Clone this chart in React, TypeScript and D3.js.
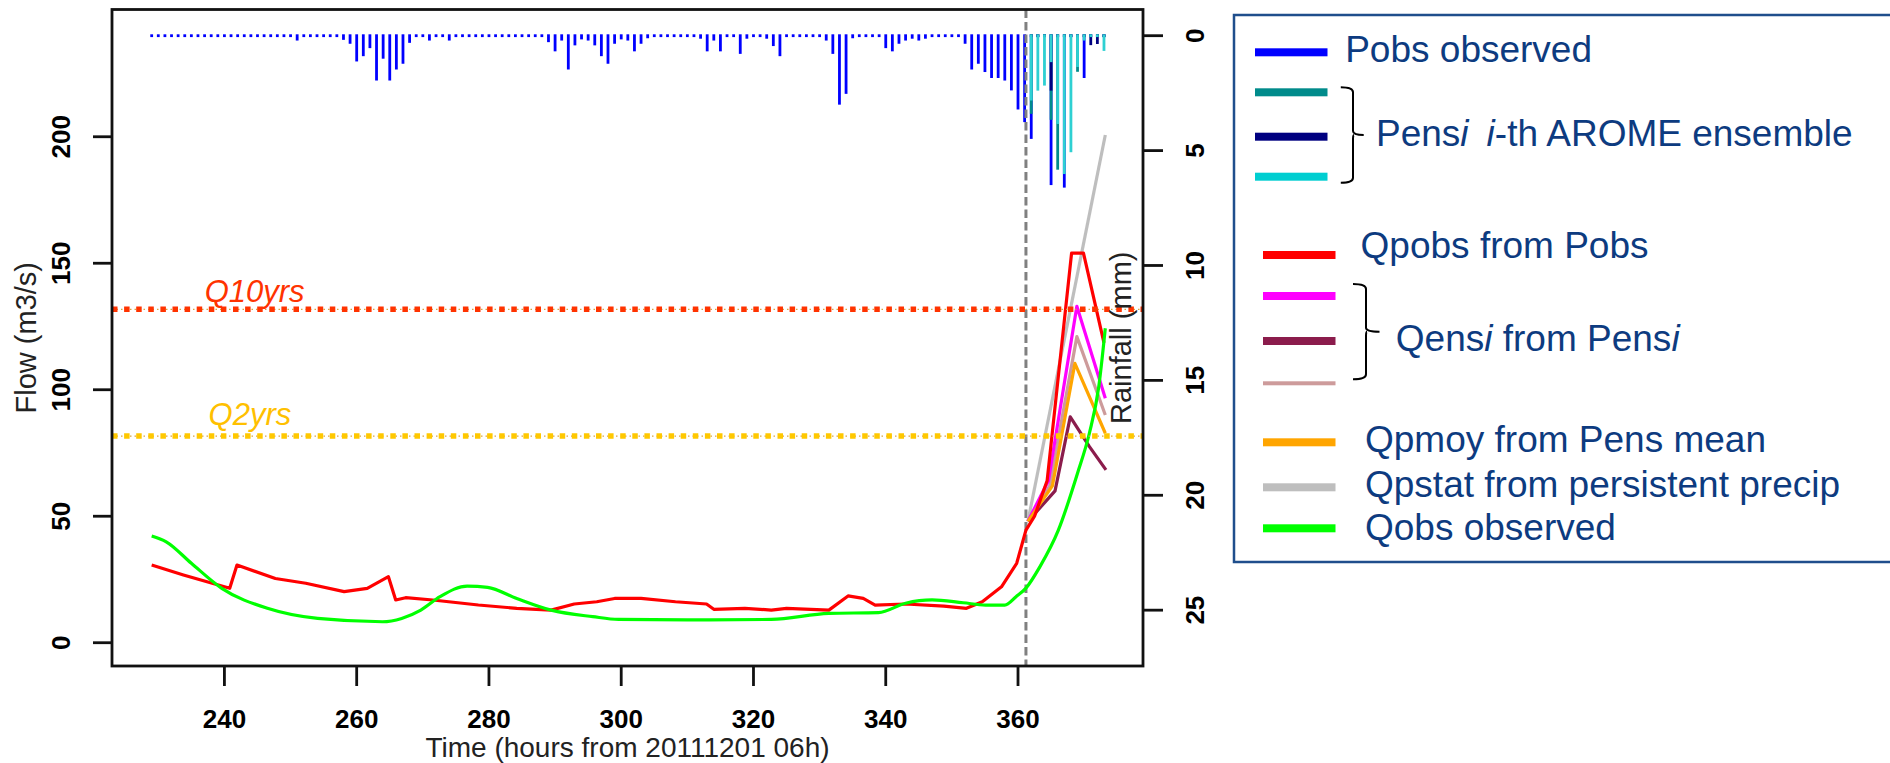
import React from 'react';
import * as d3 from 'd3';

// hourly rainfall (mm), first value is hour 229
const RAIN_START = 229;
const POBS = [
  0, 0, 0, 0, 0, 0, 0, 0, 0, 0, 0, 0, 0, 0, 0, 0, 0, 0, 0, 0, 0, 0, // 229-250
  0.15, 0, 0, 0, 0, 0, 0, 0.12, 0.29, 1.06, 0.83, 0.48, 1.89, 0.94, 1.89, 1.41, 1.16, 0.25, // 251-268
  0, 0, 0.15, 0, 0, 0.15, // 269-274
  0, 0, 0, 0, 0, 0, 0, 0, 0, 0, 0, 0, 0, 0, // 275-288
  0.22, 0.62, 0.15, 1.41, 0.36, 0.1, 0.15, 0.36, 0.83, 1.16, 0.29, 0.1, 0.15, 0.62, 0.29, 0.05, // 289-304
  0, 0, 0, 0, 0, 0, 0, // 305-311
  0.07, 0.62, 0.15, 0.62, 0, 0, 0.73, 0.07, 0, 0, 0.07, 0.39, 0.83, // 312-324
  0, 0, 0, 0, 0, 0, // 325-330
  0.15, 0.73, 2.94, 2.47, 0.05, 0, 0, 0, 0, // 331-339
  0.48, 0.62, 0.29, 0.15, 0.07, 0.15, 0.07, 0, 0, 0, 0, 0, // 340-351
  0.29, 1.41, 1.16, 1.52, 1.78, 1.78, 1.89, 2.32, 3.15, 3.7, // 352-361
  4.43, 0, 0, 6.44, 0, 6.55, 0, 0, 1.78, 0, 0, 0, // 362-373
];

// AROME ensemble rainfall (mm), first value is hour 362
const ENS_START = 362;
const PENS_TEAL = [3.34, 0, 0, 3.6, 5.77, 0, 0, 1.51, 0, 0, 0, 0];
const PENS_NAVY = [0, 0, 0, 2.33, 0, 0, 0, 0, 0, 0.35, 0.3, 0];
const PENS_CYAN = [2.76, 2.33, 2.11, 1.09, 3.78, 5.96, 5.01, 1.3, 0.15, 0, 0, 0.6];

// flows (m3/s)
const QOBS_T = [229, 231.2, 235, 239.6, 246.5, 254.1, 263.9, 266.8, 269.7, 272.6, 276.7, 279.8, 284.2, 289.4, 295.7, 299.6, 310, 322.7, 331.4, 338.9, 343, 347, 351.7, 355.1, 358, 359.7, 361.2, 363.3, 366.1, 369, 370.8, 372.2, 373.2];
const QOBS = [42.2, 39.9, 31.4, 21.5, 13.6, 9.6, 8.3, 9.6, 12.9, 18.2, 22.4, 21.9, 17.5, 12.9, 10.3, 9.2, 9.0, 9.2, 11.6, 11.9, 15.6, 16.9, 15.8, 14.9, 14.9, 18.2, 21.6, 30, 44.5, 67, 82.9, 101, 124.3];

const QPOBS_T = [229, 233.8, 240.8, 241.9, 247.7, 252.3, 258.1, 261.6, 264.8, 265.9, 267.4, 271.5, 278.4, 284.2, 289.4, 292.9, 296.3, 299, 303, 308.2, 312.9, 314, 318.7, 322.7, 325, 331.4, 334.3, 336.6, 338.4, 343, 348.8, 352.2, 354.6, 357.5, 359.8, 361.2, 362.5, 364.4, 368.1, 369.9, 373];
const QPOBS = [30.7, 26.8, 21.5, 30.7, 25.4, 23.5, 20.2, 21.5, 26.1, 16.9, 17.8, 16.9, 14.9, 13.6, 12.9, 15.3, 16.2, 17.5, 17.5, 16.2, 15.3, 13.2, 13.6, 12.9, 13.6, 12.9, 18.5, 17.5, 14.9, 15.3, 14.5, 13.6, 16.2, 22.1, 31.4, 44.5, 50, 64, 154, 154, 118.5];

const QENS_MAGENTA_T = [361.5, 364.6, 368.9, 373.2];
const QENS_MAGENTA = [48, 64, 133, 96.6];
const QENS_MAROON_T = [361.5, 365.6, 367.9, 370.8, 373.3];
const QENS_MAROON = [48, 60, 89.3, 77.5, 68.3];
const QENS_ROSY_T = [361.5, 364.8, 368.9, 373.2];
const QENS_ROSY = [48, 62, 121, 90];
const QPMOY_T = [361.5, 365.2, 368.6, 373.2];
const QPMOY = [48, 62, 110.4, 82.8];
const QPSTAT_T = [361.5, 373.2];
const QPSTAT = [48, 200.7];

const Q10YRS = 131.8;
const Q2YRS = 81.7;
const T_FORECAST = 361.2;

const X_TICKS = [240, 260, 280, 300, 320, 340, 360];
const FLOW_TICKS = [0, 50, 100, 150, 200];
const RAIN_TICKS = [0, 5, 10, 15, 20, 25];

const FONT = '"Liberation Sans", Arial, Helvetica, sans-serif';
const LEGEND_TEXT = '#0D3B80';

export default function App() {
  const L = 112, R = 1143, T = 9.5, B = 666;
  const x = d3.scaleLinear().domain([223.0, 378.9]).range([L, R]);
  const yQ = d3.scaleLinear().domain([-9.2, 250.3]).range([B, T]);
  const yP = d3.scaleLinear().domain([-1.14, 27.43]).range([T, B]);

  const line = d3.line<[number, number]>().x(d => x(d[0])).y(d => yQ(d[1]));
  const smooth = d3.line<[number, number]>().x(d => x(d[0])).y(d => yQ(d[1])).curve(d3.curveMonotoneX);
  const pts = (t: number[], v: number[]) => d3.zip(t, v) as [number, number][];

  const bw = 2.8, cap = 1.4;
  const bars = (vals: number[], start: number, color: string, id: string) =>
    vals.map((v, i) => (
      <rect key={id + i} x={x(start + i) - bw / 2} y={yP(0) - cap}
        width={bw} height={yP(v) - yP(0) + 2 * cap} fill={color} />
    ));

  const flows: [string, string, number[], number[], boolean][] = [
    ['qstat', '#BEBEBE', QPSTAT_T, QPSTAT, false],
    ['qrosy', '#CD9B9B', QENS_ROSY_T, QENS_ROSY, false],
    ['qmaroon', '#8B1C4C', QENS_MAROON_T, QENS_MAROON, false],
    ['qmag', '#FF00FF', QENS_MAGENTA_T, QENS_MAGENTA, false],
    ['qmoy', '#FFA500', QPMOY_T, QPMOY, false],
    ['qpobs', '#FF0000', QPOBS_T, QPOBS, false],
    ['qobs', '#00FF00', QOBS_T, QOBS, true],
  ];

  const brace = (x0: number, x1: number, xt: number, y0: number, y1: number) => {
    const ym = (y0 + y1) / 2;
    return `M${x0},${y0} Q${x1},${y0} ${x1},${y0 + 5} L${x1},${ym - 4} Q${x1},${ym} ${xt},${ym}` +
      ` M${x1 + 1},${ym} Q${x1},${ym} ${x1},${ym + 4} L${x1},${y1 - 5} Q${x1},${y1} ${x0},${y1}`;
  };

  // legend rows: [colour, line x0, line y, thickness]
  const legLines: [string, number, number, number][] = [
    ['#0000FF', 1255, 52.3, 8],
    ['#008B8B', 1255, 92.3, 8],
    ['#000080', 1255, 136.7, 8],
    ['#00CED1', 1255, 176.7, 8],
    ['#FF0000', 1263, 255, 8],
    ['#FF00FF', 1263, 296, 8],
    ['#8B1C4C', 1263, 341, 8],
    ['#CD9B9B', 1263, 383.3, 4],
    ['#FFA500', 1263, 442.3, 8],
    ['#BEBEBE', 1263, 487.3, 8],
    ['#00FF00', 1263, 528.3, 8],
  ];

  return (
    <svg width={1890} height={763} style={{ position: 'absolute', left: 0, top: 0, background: '#fff' }}
      fontFamily={FONT}>
      {/* rainfall bars hanging from the top */}
      {bars(POBS, RAIN_START, '#0000FF', 'p')}
      {bars(PENS_TEAL, ENS_START, '#008B8B', 't')}
      {bars(PENS_NAVY, ENS_START, '#000080', 'n')}
      {bars(PENS_CYAN, ENS_START, '#2ED0D2', 'c')}

      <line x1={x(T_FORECAST)} x2={x(T_FORECAST)} y1={T} y2={B} stroke="#808080" strokeWidth={3} strokeDasharray="8.5 4" />

      {flows.map(([k, c, t, v, s]) => (
        <path key={k} d={(s ? smooth : line)(pts(t, v)) || ''} fill="none" stroke={c} strokeWidth={3.2} strokeLinejoin="round" />
      ))}

      {/* return-period thresholds */}
      {[[Q10YRS, '#FF3300'], [Q2YRS, '#FFC800']].map(([q, c]) => (
        <g key={String(q)}>
          <line x1={L} x2={R} y1={yQ(q as number)} y2={yQ(q as number)} stroke="#D9A441" strokeWidth={1.2} strokeDasharray="1.5 3" />
          <line x1={L} x2={R} y1={yQ(q as number)} y2={yQ(q as number)} stroke={c as string} strokeWidth={5.5} strokeDasharray="5.5 6.6" />
        </g>
      ))}
      <text x={204.7} y={301.7} fill="#FF3300" fontSize={31} fontStyle="italic">Q10yrs</text>
      <text x={208.6} y={425} fill="#FFC000" fontSize={31} fontStyle="italic">Q2yrs</text>

      {/* frame */}
      <rect x={L} y={T} width={R - L} height={B - T} fill="none" stroke="#111" strokeWidth={2.8} />

      {/* bottom axis */}
      {X_TICKS.map(t => (
        <g key={'x' + t}>
          <line x1={x(t)} x2={x(t)} y1={B} y2={B + 20} stroke="#111" strokeWidth={2.8} />
          <text x={x(t)} y={728} textAnchor="middle" fontSize={26} fontWeight="bold" fill="#000">{t}</text>
        </g>
      ))}
      <text x={(L + R) / 2} y={757} textAnchor="middle" fontSize={28} fill="#222">Time (hours from 20111201 06h)</text>

      {/* left axis */}
      {FLOW_TICKS.map(v => (
        <g key={'q' + v}>
          <line x1={L - 19} x2={L} y1={yQ(v)} y2={yQ(v)} stroke="#111" strokeWidth={2.8} />
          <text transform={`translate(69.7,${yQ(v)}) rotate(-90)`} textAnchor="middle" fontSize={26} fontWeight="bold" fill="#000">{v}</text>
        </g>
      ))}
      <text transform={`translate(36,${(T + B) / 2}) rotate(-90)`} textAnchor="middle" fontSize={29} fill="#222">Flow (m3/s)</text>

      {/* right axis */}
      {RAIN_TICKS.map(v => (
        <g key={'r' + v}>
          <line x1={R} x2={R + 20} y1={yP(v)} y2={yP(v)} stroke="#111" strokeWidth={2.8} />
          <text transform={`translate(1204,${yP(v)}) rotate(-90)`} textAnchor="middle" fontSize={26} fontWeight="bold" fill="#000">{v}</text>
        </g>
      ))}
      <text transform={`translate(1130.5,${(T + B) / 2}) rotate(-90)`} textAnchor="middle" fontSize={29} fill="#222">Rainfall (mm)</text>

      {/* legend */}
      <rect x={1234} y={15} width={700} height={547} fill="none" stroke="#1F4E8C" strokeWidth={2.5} />
      {legLines.map(([c, x0, y, h], i) => (
        <rect key={'ll' + i} x={x0} y={y - h / 2} width={72.5} height={h} fill={c} />
      ))}
      <path d={brace(1340.8, 1353, 1363.7, 87.3, 182.7)} fill="none" stroke="#000" strokeWidth={2} />
      <path d={brace(1353, 1366, 1379.5, 284, 379.3)} fill="none" stroke="#000" strokeWidth={2} />
      <g fontSize={37} fill={LEGEND_TEXT}>
        <text x={1345.2} y={61.7}>Pobs observed</text>
        <text x={1376} y={146}>Pens<tspan fontStyle="italic">i</tspan><tspan dx={18} fontStyle="italic">i</tspan>-th AROME ensemble</text>
        <text x={1360.6} y={258.3}>Qpobs from Pobs</text>
        <text x={1395.8} y={350.7}>Qens<tspan fontStyle="italic">i</tspan> from Pens<tspan fontStyle="italic">i</tspan></text>
        <text x={1365} y={451.7}>Qpmoy from Pens mean</text>
        <text x={1365} y={496.7}>Qpstat from persistent precip</text>
        <text x={1365} y={540}>Qobs observed</text>
      </g>
    </svg>
  );
}
